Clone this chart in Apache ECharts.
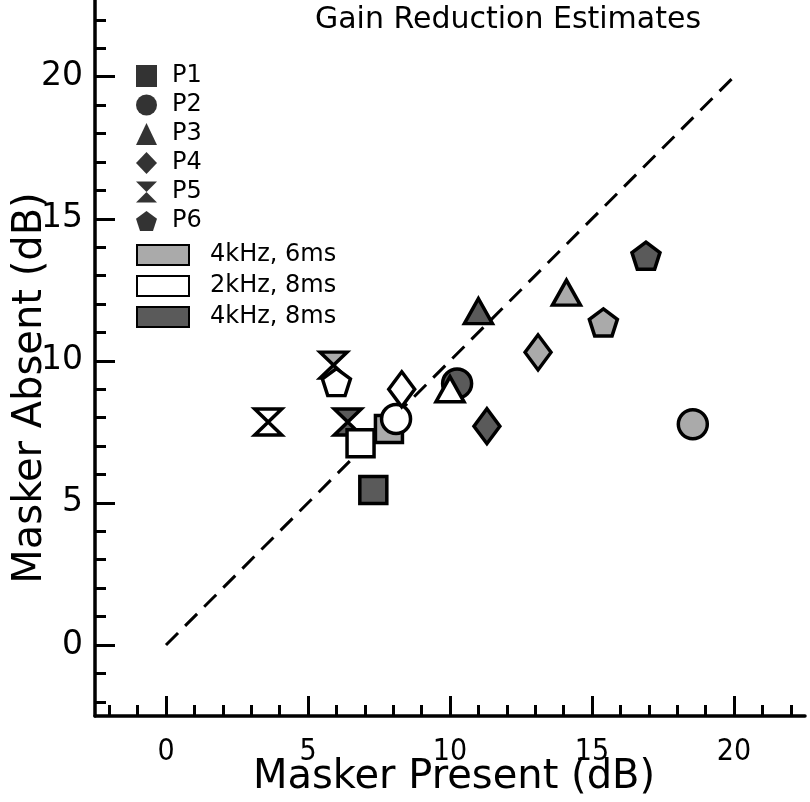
<!DOCTYPE html>
<html>
<head>
<meta charset="utf-8">
<script src="https://cdn.jsdelivr.net/npm/echarts@6/dist/echarts.min.js"></script>
<style>html,body{margin:0;padding:0;background:#fff}#c{width:810px;height:802px}</style>
</head>
<body>
<div id="c"></div>
<script>
// ---- data ----
const participants = ['P1', 'P2', 'P3', 'P4', 'P5', 'P6'];
const conditions = ['4kHz, 6ms', '2kHz, 8ms', '4kHz, 8ms'];
// Masker Present (x) and Masker Absent (y), per participant P1..P6
const x4k6 = [7.85, 18.55, 14.1, 13.1, 5.9, 15.4];
const y4k6 = [7.6, 7.77, 12.4, 10.3, 9.85, 11.35];
const x2k8 = [6.85, 8.1, 10.0, 8.3, 3.6, 6.0];
const y2k8 = [7.1, 7.95, 9.0, 9.0, 7.85, 9.25];
const x4k8 = [7.3, 10.25, 11.0, 11.3, 6.4, 16.9];
const y4k8 = [5.45, 9.2, 11.75, 7.7, 7.85, 13.7];
const diagX = [0, 20];
const diagY = [0, 20];
const majorTicks = [0, 5, 10, 15, 20];
const minorTicks = [-2, -1, 1, 2, 3, 4, 6, 7, 8, 9, 11, 12, 13, 14, 16, 17, 18, 19, 21, 22];

// ---- styles ----
const HOUR = 'path://M0,0L10,0L0,10L10,10Z';
const PENT = 'path://M5,0L10,3.63L8.09,9.51L1.91,9.51L0,3.63Z';
const shapes = ['rect', 'circle', 'triangle', 'diamond', HOUR, PENT];
const sizes = [[27, 27], [29, 29], [28, 25], [26, 35], [27, 26], [28, 27]];
const condColors = ['#aaaaaa', '#ffffff', '#5a5a5a'];
const condX = [x4k6, x2k8, x4k8];
const condY = [y4k6, y2k8, y4k8];
const FONT = 'DejaVu Sans';
const NARROW = '"DejaVu Sans Condensed", "DejaVu Sans"';

const series = [];
series.push({
  type: 'line', data: diagX.map((v, i) => [v, diagY[i]]), symbol: 'none', silent: true,
  lineStyle: { color: '#000', width: 3, type: [17, 10] }, z: 1
});
// condition series (light, dark, white order for overlap)
[0, 2, 1].forEach(ci => {
  series.push({
    type: 'scatter', name: conditions[ci],
    itemStyle: { color: condColors[ci], borderColor: '#000', borderWidth: 3.5, opacity: 1 },
    data: condX[ci].map((v, i) => ({
      value: [v, condY[ci][i]], symbol: shapes[i], symbolSize: sizes[i]
    })),
    z: 3
  });
});
// participant legend series
participants.forEach((p, i) => {
  series.push({ type: 'scatter', name: p, symbol: shapes[i],
    itemStyle: { color: '#000000', borderWidth: 0 }, data: [] });
});

const chart = echarts.init(document.getElementById('c'), null, { renderer: 'canvas' });
chart.setOption({
  animation: false,
  backgroundColor: '#fff',
  title: {
    text: 'Gain Reduction Estimates', left: 503, top: 0, textAlign: 'center',
    textStyle: { fontFamily: FONT, fontWeight: 'normal', fontSize: 30, color: '#000' }
  },
  graphic: [{
    type: 'text', x: 454, y: 778, silent: true,
    style: { text: 'Masker Present (dB)', textAlign: 'center', textVerticalAlign: 'middle',
      font: '40px "DejaVu Sans"', fill: '#000' }
  }],
  grid: { left: 95, right: 5, top: 0, bottom: 86, containLabel: false, outerBoundsMode: 'none' },
  legend: [
    {
      data: participants.map((p, i) => ({ name: p, icon: shapes[i], itemStyle: { color: '#000000', borderWidth: 0 } })),
      orient: 'vertical', left: 136, top: 64, padding: 0, itemWidth: 21, itemHeight: 22, itemGap: 5,
      formatter: '{t|{name}}',
      textStyle: { fontFamily: FONT, fontSize: 24, color: '#000',
        rich: { t: { fontFamily: FONT, fontSize: 24, color: '#000', padding: [0, 0, 0, 10] } } },
      selectedMode: false
    },
    {
      data: conditions.map(c => ({ name: c, icon: 'rect' })),
      orient: 'vertical', left: 136, top: 243, padding: 0, itemWidth: 52, itemHeight: 20, itemGap: 7,
      formatter: '{t|{name}}',
      textStyle: { fontFamily: FONT, fontSize: 24, color: '#000',
        rich: { t: { fontFamily: FONT, fontSize: 24, color: '#000', padding: [0, 0, 0, 16] } } },
      selectedMode: false
    }
  ],
  xAxis: [{
    type: 'value', min: -2.5, max: 22.5, position: 'bottom',
    splitLine: { show: false },
    axisLine: { onZero: false, lineStyle: { color: '#000', width: 3.5 } },
    axisTick: { inside: true, length: 20, lineStyle: { color: '#000', width: 3 }, customValues: majorTicks },
    axisLabel: { customValues: majorTicks, margin: 21, fontFamily: NARROW, fontSize: 30, color: '#000' }
  }, {
    type: 'value', min: -2.5, max: 22.5, position: 'bottom',
    splitLine: { show: false }, axisLine: { show: false, onZero: false },
    axisTick: { inside: true, length: 11, lineStyle: { color: '#000', width: 3 }, customValues: minorTicks },
    axisLabel: { show: false }
  }],
  yAxis: [{
    type: 'value', min: -2.5, max: 22.7, position: 'left',
    name: 'Masker Absent (dB)', nameLocation: 'middle', nameGap: 44, nameMoveOverlap: false,
    nameTextStyle: { fontFamily: FONT, fontSize: 40, color: '#000', padding: [0, 60, 0, 0] },
    splitLine: { show: false },
    axisLine: { onZero: false, lineStyle: { color: '#000', width: 3.5 } },
    axisTick: { inside: true, length: 20, lineStyle: { color: '#000', width: 3 }, customValues: majorTicks },
    axisLabel: { customValues: majorTicks, margin: 12, fontFamily: FONT, fontSize: 33, color: '#000' }
  }, {
    type: 'value', min: -2.5, max: 22.7, position: 'left',
    splitLine: { show: false }, axisLine: { show: false, onZero: false },
    axisTick: { inside: true, length: 11, lineStyle: { color: '#000', width: 3 }, customValues: minorTicks },
    axisLabel: { show: false }
  }],
  series: series
});
</script>
</body>
</html>
